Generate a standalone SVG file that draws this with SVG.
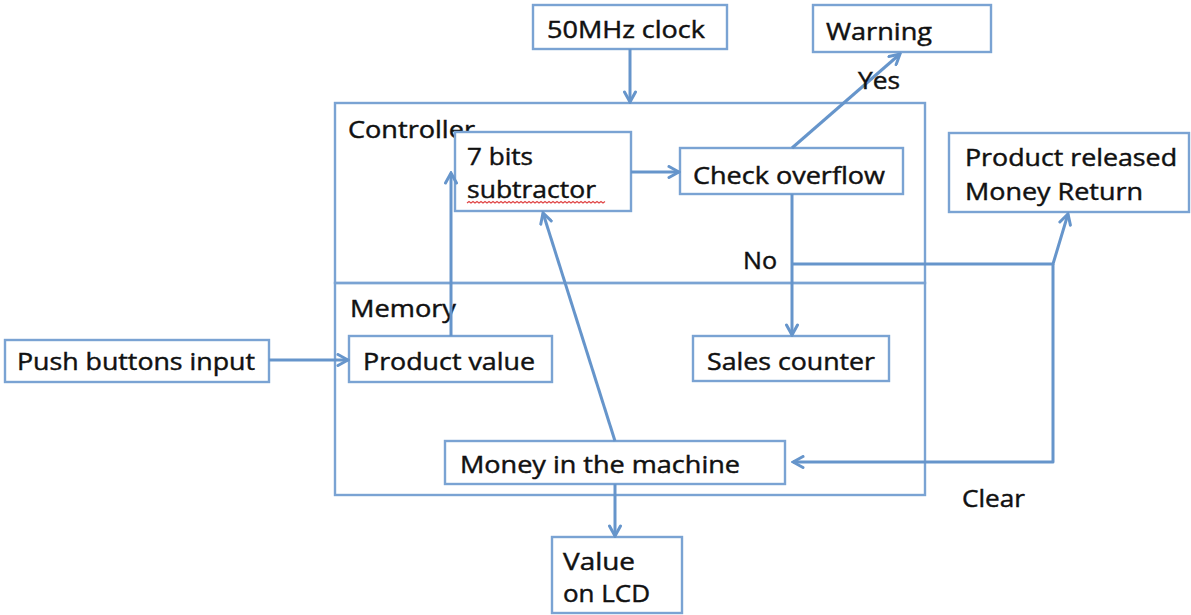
<svg xmlns="http://www.w3.org/2000/svg" width="1191" height="615" viewBox="0 0 1191 615">
  <style>
    .box { fill: #ffffff; stroke: #7aa3d3; stroke-width: 2.4; }
    .frame { fill: none; stroke: #7aa3d3; stroke-width: 2.4; }
    .wire { fill: none; stroke: #6695cb; stroke-width: 3; stroke-linejoin: round; }
    .lbl { font-family: "Open Sans", "Noto Sans", "Liberation Sans", sans-serif; font-size: 24px; fill: #111111; stroke: #111111; stroke-width: 0.45px; }
    .squiggle { fill: none; stroke: #e04848; stroke-width: 1.2; }
  </style>
  <defs>
    <marker id="arrow" markerUnits="userSpaceOnUse" viewBox="0 0 14 14" refX="12" refY="7" markerWidth="14" markerHeight="14" orient="auto">
      <path d="M2,1.5 L12,7 L2,12.5" fill="none" stroke="#6695cb" stroke-width="3" stroke-linejoin="miter" stroke-linecap="round"/>
    </marker>
  </defs>

  <rect width="1191" height="615" fill="#ffffff"/>

  <!-- enclosing blocks -->
  <g id="controller">
    <rect class="frame" x="335" y="103" width="590" height="180"/>
    <text class="lbl" x="348" y="138" textLength="127" lengthAdjust="spacingAndGlyphs">Controller</text>
  </g>
  <g id="memory">
    <rect class="frame" x="335" y="283" width="590" height="212"/>
    <text class="lbl" x="350" y="317" textLength="106" lengthAdjust="spacingAndGlyphs">Memory</text>
  </g>

  <!-- inner and outer nodes -->
  <g id="clock">
    <rect class="box" x="533" y="5" width="194" height="44"/>
    <text class="lbl" x="547" y="38" textLength="158" lengthAdjust="spacingAndGlyphs">50MHz clock</text>
  </g>
  <g id="warning">
    <rect class="box" x="813" y="5" width="178" height="47"/>
    <text class="lbl" x="826" y="40" textLength="106" lengthAdjust="spacingAndGlyphs">Warning</text>
  </g>
  <g id="subtractor">
    <rect class="box" x="455" y="132" width="176" height="79"/>
    <text class="lbl" x="467" y="165" textLength="66" lengthAdjust="spacingAndGlyphs">7 bits</text>
    <text class="lbl" x="467" y="198" textLength="129" lengthAdjust="spacingAndGlyphs">subtractor</text>
    <!-- spell-check underline -->
    <path class="squiggle" d="M467,203 l2,-1.5 l2,1.5 l2,-1.5 l2,1.5 l2,-1.5 l2,1.5 l2,-1.5 l2,1.5 l2,-1.5 l2,1.5 l2,-1.5 l2,1.5 l2,-1.5 l2,1.5 l2,-1.5 l2,1.5 l2,-1.5 l2,1.5 l2,-1.5 l2,1.5 l2,-1.5 l2,1.5 l2,-1.5 l2,1.5 l2,-1.5 l2,1.5 l2,-1.5 l2,1.5 l2,-1.5 l2,1.5 l2,-1.5 l2,1.5 l2,-1.5 l2,1.5 l2,-1.5 l2,1.5 l2,-1.5 l2,1.5 l2,-1.5 l2,1.5 l2,-1.5 l2,1.5 l2,-1.5 l2,1.5 l2,-1.5 l2,1.5 l2,-1.5 l2,1.5 l2,-1.5 l2,1.5 l2,-1.5 l2,1.5 l2,-1.5 l2,1.5 l2,-1.5 l2,1.5 l2,-1.5 l2,1.5 l2,-1.5 l2,1.5 l2,-1.5 l2,1.5 l2,-1.5 l2,1.5 l2,-1.5 l2,1.5 l2,-1.5 l2,1.5 l2,-1.5"/>
  </g>
  <g id="check-overflow">
    <rect class="box" x="680" y="148" width="223" height="46"/>
    <text class="lbl" x="693" y="184" textLength="192" lengthAdjust="spacingAndGlyphs">Check overflow</text>
  </g>
  <g id="product-released">
    <rect class="box" x="949" y="133" width="240" height="79"/>
    <text class="lbl" x="965" y="166" textLength="212" lengthAdjust="spacingAndGlyphs">Product released</text>
    <text class="lbl" x="965" y="200" textLength="178" lengthAdjust="spacingAndGlyphs">Money Return</text>
  </g>
  <g id="push-buttons">
    <rect class="box" x="5" y="340" width="264" height="42"/>
    <text class="lbl" x="17" y="370" textLength="238" lengthAdjust="spacingAndGlyphs">Push buttons input</text>
  </g>
  <g id="product-value">
    <rect class="box" x="349" y="336" width="203" height="46"/>
    <text class="lbl" x="363" y="370" textLength="172" lengthAdjust="spacingAndGlyphs">Product value</text>
  </g>
  <g id="sales-counter">
    <rect class="box" x="693" y="336" width="196" height="45"/>
    <text class="lbl" x="707" y="370" textLength="168" lengthAdjust="spacingAndGlyphs">Sales counter</text>
  </g>
  <g id="money">
    <rect class="box" x="445" y="441" width="340" height="43"/>
    <text class="lbl" x="460" y="473" textLength="280" lengthAdjust="spacingAndGlyphs">Money in the machine</text>
  </g>
  <g id="lcd">
    <rect class="box" x="552" y="537" width="130" height="76"/>
    <text class="lbl" x="563" y="570" textLength="72" lengthAdjust="spacingAndGlyphs">Value</text>
    <text class="lbl" x="563" y="602" textLength="87" lengthAdjust="spacingAndGlyphs">on LCD</text>
  </g>

  <!-- connectors -->
  <g id="connectors">
    <line class="wire" x1="630" y1="49" x2="630" y2="102" marker-end="url(#arrow)"/>
    <line class="wire" x1="631" y1="172" x2="679" y2="172" marker-end="url(#arrow)"/>
    <line class="wire" x1="792" y1="148" x2="900" y2="54" marker-end="url(#arrow)"/>
    <line class="wire" x1="792" y1="194" x2="792" y2="335" marker-end="url(#arrow)"/>
    <line class="wire" x1="269" y1="360" x2="348" y2="360" marker-end="url(#arrow)"/>
    <line class="wire" x1="451" y1="336" x2="451" y2="173" marker-end="url(#arrow)"/>
    <line class="wire" x1="615" y1="441" x2="543" y2="213" marker-end="url(#arrow)"/>
    <line class="wire" x1="615" y1="484" x2="615" y2="536" marker-end="url(#arrow)"/>
    <polyline class="wire" points="792,264 1053,264 1068,214" marker-end="url(#arrow)"/>
    <polyline class="wire" points="1053,264 1053,462 793,462" marker-end="url(#arrow)"/>
    <text class="lbl" x="858" y="89" textLength="42" lengthAdjust="spacingAndGlyphs">Yes</text>
    <text class="lbl" x="743" y="269" textLength="34" lengthAdjust="spacingAndGlyphs">No</text>
    <text class="lbl" x="962" y="507" textLength="63" lengthAdjust="spacingAndGlyphs">Clear</text>
  </g>
</svg>
